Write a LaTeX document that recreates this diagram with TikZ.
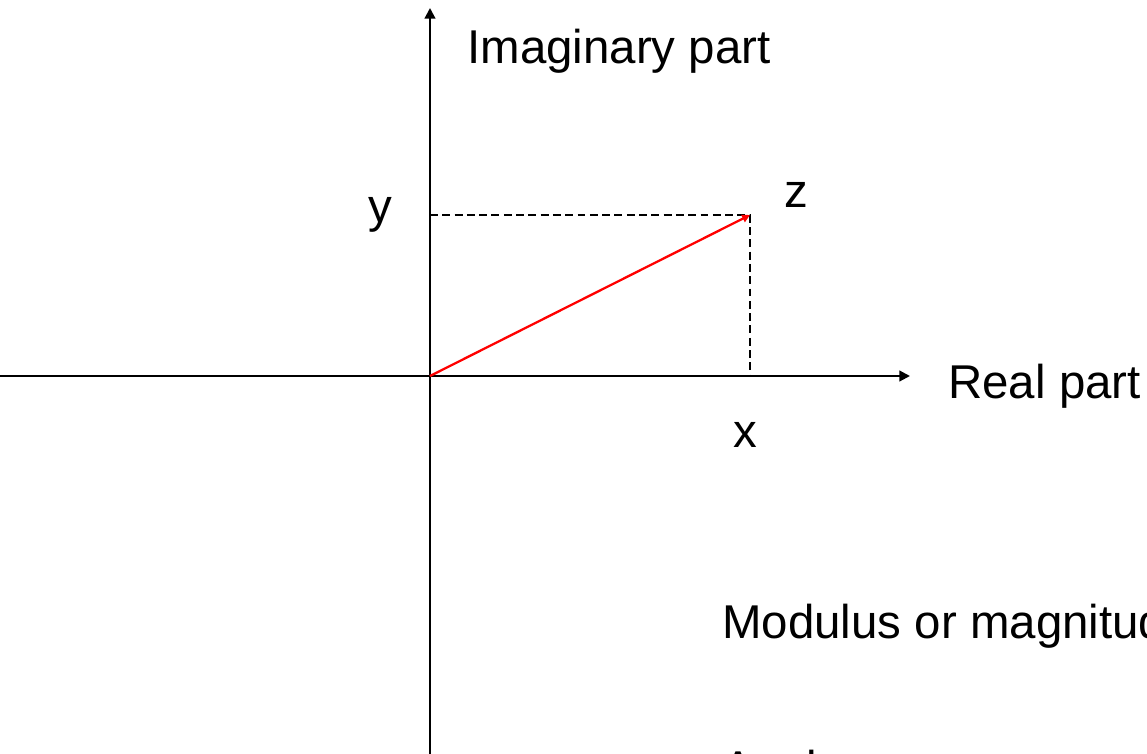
\documentclass[tikz,border=0pt]{standalone}
\usepackage{fontspec}
\setmainfont{Liberation Sans}
\usetikzlibrary{arrows.meta}
\begin{document}
\begin{tikzpicture}[
    x=0.02cm, y=-0.02cm,
    axis/.style={-{Triangle[length=6pt,width=6pt]}, line width=1.2pt},
    vec/.style={-{Triangle[length=4.5pt,width=4.5pt]}, line width=1.3pt, red},
    guide/.style={line width=1.2pt, dash pattern=on 4.5pt off 2.5pt},
    lab/.style={font=\fontsize{27}{32}\selectfont, inner sep=0pt, anchor=base west}
  ]
    \useasboundingbox (0,0) rectangle (1147,754);
    \clip (0,0) rectangle (1147,754);
    \coordinate (o) at (430,376);
    \coordinate (z) at (750,215);
    \coordinate (zx) at (750,376);
    \coordinate (zy) at (430,215);
    \coordinate (left) at (0,376);
    \coordinate (right) at (910,376);
    \coordinate (bottom) at (430,754);
    \coordinate (top) at (430,8);
    \draw[axis] (left) -- (right);
    \draw[axis] (bottom) -- (top);
    \draw[guide] (zy) -- (z) -- (zx);
    \draw[vec] (o) -- (z);
    \node[lab] (im) at (467,63) {Imaginary part};
    \node[lab] (re) at (948,398) {Real part};
    \node[lab, anchor=base] (ylab) at (380,222) {y};
    \node[lab, anchor=base] (zlab) at (796,207) {z};
    \node[lab, anchor=base] (xlab) at (745,447) {x};
    \node[lab] (mod) at (722,638) {Modulus or magnitude};
    \node[lab] (ang) at (722,784) {Angle};
\end{tikzpicture}
\end{document}
